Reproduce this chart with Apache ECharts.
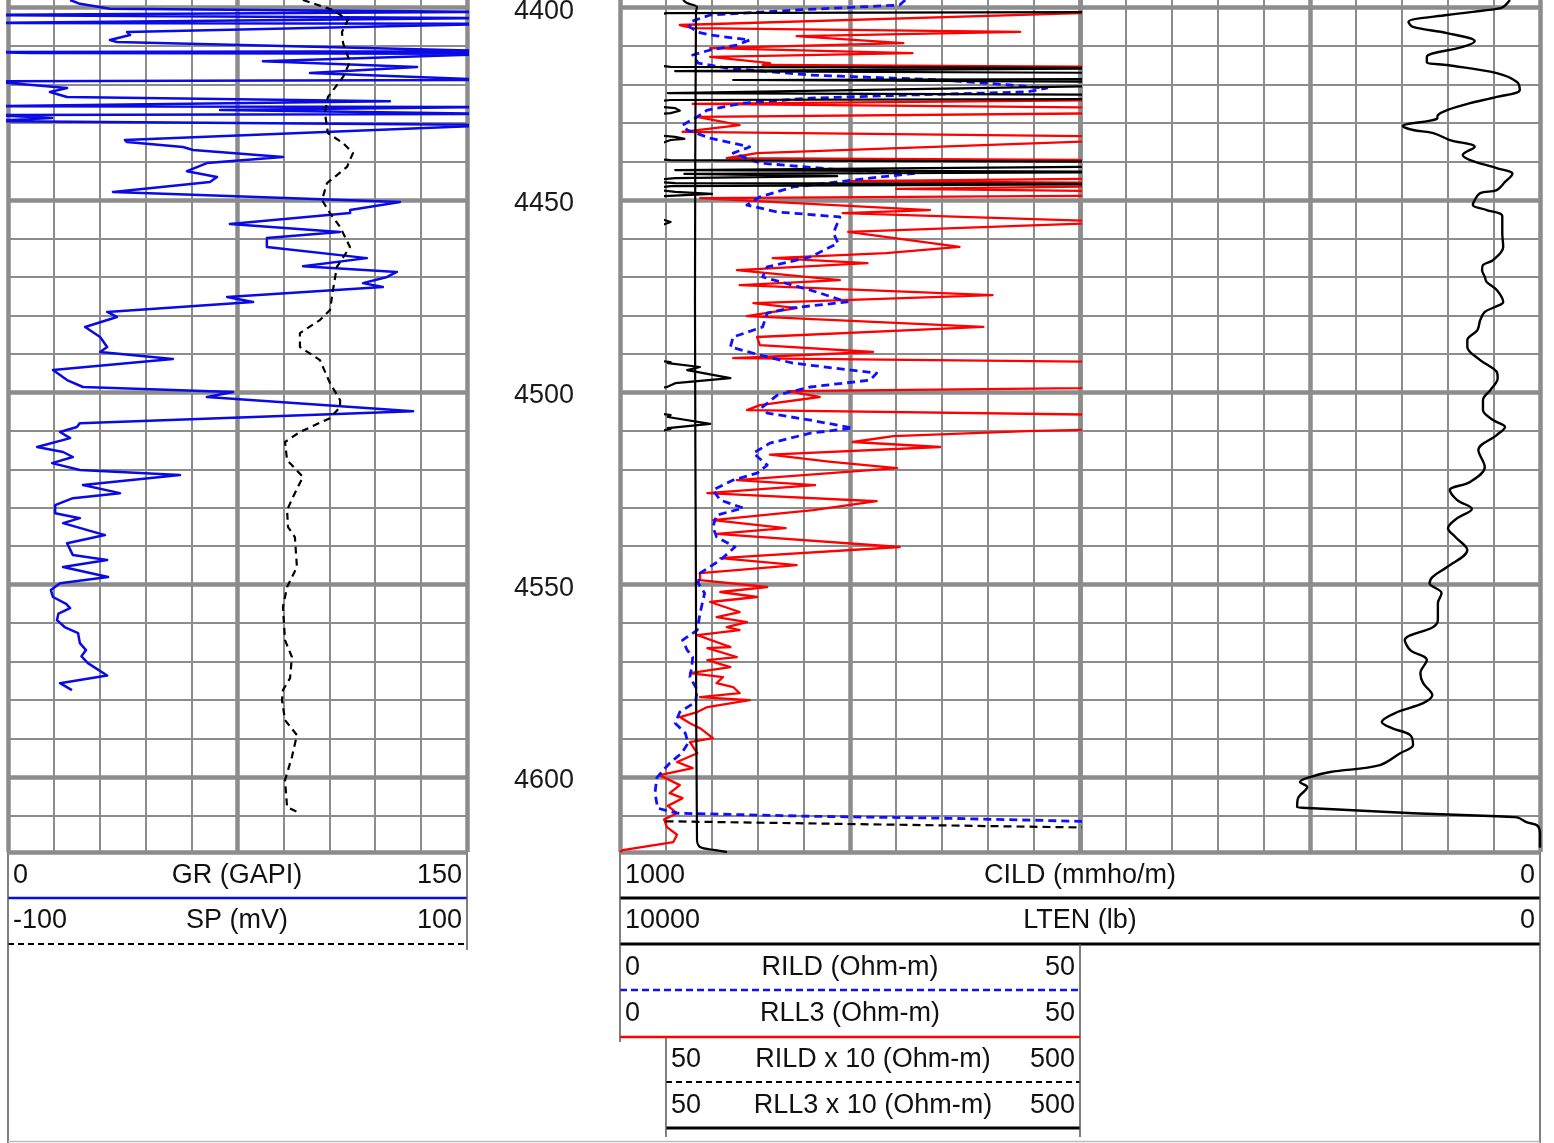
<!DOCTYPE html>
<html><head><meta charset="utf-8">
<script src="https://cdn.jsdelivr.net/npm/echarts@6/dist/echarts.min.js"></script>
<style>html,body{margin:0;padding:0;background:#fff;overflow:hidden}#c{width:1554px;height:1143px}</style>
</head><body><div id="c"></div>
<script>
// ---- data: [depth (ft), value] ----
const grData = [[4398.0,20.3],[4399.0,23.5],[4400.3,33.3],[4401.1,160],[4401.9,-9],[4402.7,160],[4404.0,-9],[4404.2,160],[4406.3,38.9],[4407.1,39.9],[4408.4,33.3],[4408.9,35.6],[4411.3,160],[4411.5,-6],[4411.8,7.2],[4412.0,160],[4413.9,83.3],[4415.4,133.7],[4417.0,98.7],[4418.8,160],[4419.1,-6],[4420.9,19.3],[4421.9,13.7],[4423.2,19.3],[4424.3,124.8],[4425.6,-6],[4425.8,160],[4426.6,69.3],[4427.6,160],[4427.9,-6],[4428.7,14.4],[4429.5,-6],[4430.5,160],[4434.4,38.2],[4434.9,38.9],[4436.2,57.2],[4437.0,60.5],[4438.8,89.9],[4440.4,65.0],[4442.5,58.5],[4444.0,68.3],[4445.3,66.0],[4447.9,34.3],[4448.7,62.7],[4450.5,128.1],[4452.6,111.8],[4453.4,111.8],[4456.2,72.5],[4458.3,108.5],[4459.9,84.6],[4462.2,84.6],[4465.1,117.3],[4467.2,96.4],[4468.7,127.1],[4470.0,123.9],[4471.6,116.0],[4472.6,122.5],[4475.2,71.6],[4476.5,80.1],[4479.1,32.4],[4480.4,35.6],[4483.0,25.2],[4485.6,30.1],[4488.2,32.4],[4489.5,30.1],[4491.3,53.9],[4494.2,14.7],[4496.8,19.3],[4498.6,24.5],[4499.9,73.5],[4501.2,65.0],[4504.9,132.4],[4508.0,23.5],[4509.0,22.5],[4510.3,17.0],[4511.9,20.3],[4514.2,9.5],[4515.5,18.0],[4516.8,21.2],[4518.4,14.4],[4520.2,23.5],[4521.5,56.2],[4524.1,24.5],[4526.2,36.6],[4527.5,21.2],[4529.3,15.4],[4531.4,15.4],[4532.7,23.5],[4534.0,18.0],[4537.1,31.7],[4539.2,19.3],[4542.3,21.2],[4543.6,32.4],[4545.4,18.0],[4548.0,32.7],[4549.6,17.0],[4551.4,14.0],[4553.2,14.7],[4555.0,19.0],[4556.1,20.3],[4557.5,16.5],[4559.2,16.0],[4561.0,18.5],[4562.6,22.9],[4565.2,23.5],[4567.0,25.5],[4568.6,24.0],[4570.4,26.1],[4573.6,32.4],[4575.6,17.0],[4577.4,20.9]];

const spData = [[4398.0,28.5],[4400.6,41.6],[4403.2,48.1],[4406.3,45.5],[4409.2,46.0],[4414.1,49.0],[4418.0,46.0],[4423.2,39.4],[4427.4,38.1],[4432.6,39.4],[4435.2,46.0],[4437.8,50.3],[4441.4,47.7],[4445.6,39.0],[4450.0,36.8],[4453.4,40.3],[4457.0,44.7],[4462.2,49.0],[4467.4,43.3],[4473.4,41.6],[4478.6,40.3],[4481.2,35.9],[4484.6,27.2],[4488.2,27.2],[4491.6,35.9],[4497.6,40.3],[4502.0,44.7],[4503.8,44.7],[4506.7,40.3],[4510.3,27.2],[4512.9,20.7],[4517.6,21.6],[4522.0,28.5],[4527.2,24.2],[4530.6,21.6],[4535.0,22.0],[4537.6,25.0],[4545.4,25.9],[4550.6,21.6],[4555.8,19.8],[4564.4,20.7],[4568.8,23.7],[4574.3,22.9],[4577.4,19.8],[4580.0,19.4],[4585.2,20.7],[4589.1,25.9],[4594.8,23.7],[4600.8,20.7],[4607.8,21.6],[4609.4,27.2]];

const rildData = [[4398.0,31.0],[4399.3,30.4],[4400.6,19.2],[4401.9,9.8],[4403.7,7.6],[4405.0,7.6],[4406.3,8.4],[4407.1,9.8],[4408.4,14.1],[4409.7,12.7],[4411.0,9.8],[4412.3,7.9],[4414.4,8.5],[4415.7,11.6],[4417.5,20.7],[4418.8,35.1],[4420.1,42.4],[4420.9,46.4],[4421.9,44.2],[4422.7,31.5],[4423.5,20.7],[4424.8,13.4],[4426.6,9.5],[4428.4,8.4],[4430.5,6.8],[4431.8,7.3],[4433.9,9.8],[4436.2,14.1],[4437.8,12.3],[4440.4,15.2],[4442.2,24.2],[4443.0,32.3],[4444.3,27.2],[4446.6,18.8],[4449.2,15.2],[4451.3,13.8],[4453.1,17.1],[4454.4,23.9],[4458.6,23.2],[4461.2,23.7],[4464.8,20.7],[4467.4,16.0],[4470.0,15.5],[4473.4,20.7],[4476.5,24.7],[4478.1,18.5],[4479.4,16.0],[4483.0,15.5],[4485.6,12.3],[4488.2,12.0],[4490.3,15.2],[4492.4,18.8],[4495.0,27.9],[4496.8,27.2],[4498.6,20.7],[4500.7,17.1],[4503.8,15.5],[4505.4,16.0],[4507.2,20.7],[4509.3,25.3],[4510.6,20.7],[4513.2,16.3],[4515.8,14.5],[4518.9,16.0],[4521.0,14.9],[4522.8,12.3],[4525.4,10.1],[4528.0,10.9],[4530.1,13.4],[4531.9,10.5],[4535.0,10.1],[4537.6,10.5],[4540.2,12.5],[4543.6,10.9],[4547.0,8.7],[4549.6,8.5],[4552.2,9.2],[4557.4,8.7],[4561.8,8.4],[4564.4,6.8],[4567.0,7.3],[4568.8,7.9],[4571.4,7.8],[4574.0,7.6],[4577.4,8.4],[4580.5,8.2],[4583.1,6.5],[4586.0,6.0],[4588.6,7.1],[4591.2,7.4],[4593.8,6.7],[4596.4,5.4],[4598.2,4.7],[4600.2,4.0],[4604.2,3.8],[4608.1,4.1],[4609.4,6.2],[4610.2,20.7],[4610.7,35.1],[4611.5,50],[4613.1,500],[4613.5,1000],[4619.5,1000]];

const rll3Data = [[4398.0,600],[4401.1,600],[4401.4,50],[4404.5,6.5],[4405.3,7.9],[4406.3,43.5],[4407.4,19.2],[4409.2,30.8],[4410.5,9.8],[4411.8,31.8],[4412.8,9.8],[4414.4,16.3],[4414.9,15.5],[4415.4,55],[4415.7,600],[4416.2,600],[4416.5,60],[4417.0,600],[4418.5,600],[4418.8,123],[4419.3,600],[4420.1,600],[4422.2,52],[4422.7,600],[4423.7,600],[4424.0,55],[4425.0,7.9],[4426.1,60],[4426.8,65],[4427.4,55],[4428.4,8.4],[4430.5,13.0],[4432.3,6.8],[4433.6,60],[4434.1,70],[4434.4,55],[4437.8,14.9],[4439.1,11.6],[4439.6,55],[4440.1,600],[4441.2,600],[4442.2,60],[4442.7,600],[4443.2,70],[4443.8,236],[4444.3,60],[4445.1,24.5],[4445.6,60],[4445.8,600],[4446.4,55],[4447.1,30],[4447.9,60],[4448.4,100],[4449.0,45],[4449.5,8.7],[4452.6,33.7],[4453.4,24.2],[4455.7,55],[4458.3,24.8],[4462.2,36.9],[4463.8,28.9],[4465.1,16.6],[4466.4,26.9],[4468.2,12.7],[4470.8,23.9],[4472.1,13.0],[4474.7,40.5],[4476.8,14.5],[4478.1,19.2],[4480.2,13.8],[4483.0,39.5],[4485.6,14.9],[4487.7,15.2],[4489.5,27.5],[4491.1,12.3],[4492.1,55],[4492.4,52],[4493.4,87],[4494.2,73],[4496.3,120],[4497.6,60],[4498.6,51],[4498.9,50],[4499.7,18.2],[4501.2,21.7],[4503.3,15.2],[4504.6,13.8],[4505.9,55],[4506.4,52],[4508.2,98],[4509.3,52],[4509.5,55],[4510.1,44.2],[4511.4,29.7],[4512.9,25.3],[4514.2,34.8],[4516.2,16.3],[4518.0,22.7],[4519.7,30.1],[4522.8,12.7],[4524.1,21.2],[4526.2,9.5],[4528.3,27.9],[4530.6,21.0],[4533.2,10.1],[4535.3,18.0],[4536.8,10.5],[4540.2,30.4],[4543.1,10.9],[4544.9,19.2],[4547.0,8.7],[4548.8,8.7],[4550.6,16.0],[4551.9,10.9],[4553.2,14.9],[4554.5,9.8],[4557.1,13.0],[4558.4,10.5],[4559.7,13.8],[4561.0,11.6],[4561.8,13.0],[4563.1,8.4],[4566.2,12.0],[4566.5,9.5],[4568.8,12.7],[4569.6,9.5],[4571.4,12.0],[4573.0,7.6],[4574.0,11.2],[4575.6,10.5],[4576.6,12.3],[4578.2,13.0],[4579.2,8.7],[4580.0,14.1],[4581.8,9.5],[4583.1,8.4],[4584.4,6.5],[4586.0,7.6],[4587.3,8.7],[4589.9,10.1],[4590.9,7.6],[4593.8,8.4],[4596.1,6.2],[4597.7,7.9],[4599.5,4.3],[4602.1,6.5],[4604.2,5.4],[4605.5,6.8],[4607.5,5.2],[4609.4,6.2],[4611.0,4.8],[4613.0,5.1],[4615.0,6.2],[4616.9,5.8],[4619.0,0.3],[4619.5,0]];

const cildData = [[4398.0,32.6],[4399.8,40],[4400.3,47],[4401.9,101],[4403.7,143],[4405.0,138],[4406.6,101],[4408.7,71],[4410.2,84],[4412.8,123],[4414.1,123],[4414.9,101],[4417.0,47],[4419.3,25],[4421.4,22],[4423.2,47],[4424.8,76],[4426.6,101],[4427.9,111],[4428.9,112],[4430.8,149],[4431.8,138],[4432.6,116],[4434.4,98],[4436.2,71],[4438.3,84],[4439.6,76],[4441.7,47],[4443.2,30],[4445.3,38],[4447.4,47],[4448.2,65],[4450.0,71],[4451.3,73],[4452.6,58],[4454.2,41],[4458.6,41],[4462.2,40],[4465.6,51],[4466.9,62],[4468.2,63],[4470.0,60],[4471.3,58],[4473.4,47],[4476.5,40],[4477.8,49],[4479.1,60],[4481.2,65],[4483.8,68],[4486.4,79],[4488.2,79],[4491.6,65],[4494.7,47],[4496.3,46],[4499.4,54],[4502.0,62],[4504.6,62],[4507.2,51],[4509.0,38],[4511.1,47],[4515.0,67],[4519.4,60],[4523.3,76],[4525.4,98],[4528.0,90],[4530.3,74],[4532.7,90],[4535.3,100],[4537.6,92],[4541.0,79],[4545.4,101],[4548.0,117],[4549.6,120],[4552.2,107],[4554.8,111],[4559.2,111],[4561.0,116],[4564.4,147],[4567.0,141],[4569.6,123],[4573.0,130],[4575.6,127],[4578.7,117],[4580.8,127],[4583.1,155],[4585.7,172],[4587.3,161],[4589.1,141],[4591.7,138],[4593.8,152],[4596.9,174],[4598.7,228],[4600.0,250],[4601.3,261],[4602.6,253],[4605.5,263],[4607.8,264],[4608.1,247],[4609.4,138],[4610.2,47],[4610.5,25],[4611.8,14],[4612.6,3],[4614.7,0],[4618.4,0]];

const ltenData = [[4398.0,9315],[4398.8,9272],[4399.8,9163],[4401.1,9174],[4476.0,9185],[4554.0,9174],[4616.4,9163],[4618.2,9130],[4619.0,8967],[4619.5,8837]];

// header scale labels
const headerLeftRows = [
  {name:'GR (GAPI)', lo:'0', hi:'150'},
  {name:'SP (mV)', lo:'-100', hi:'100'}
];
const headerWideRows = [
  {name:'CILD (mmho/m)', lo:'1000', hi:'0'},
  {name:'LTEN (lb)', lo:'10000', hi:'0'}
];
const headerResRows = [
  {name:'RILD (Ohm-m)', lo:'0', hi:'50'},
  {name:'RLL3 (Ohm-m)', lo:'0', hi:'50'}
];
const headerBackupRows = [
  {name:'RILD x 10 (Ohm-m)', lo:'50', hi:'500'},
  {name:'RLL3 x 10 (Ohm-m)', lo:'50', hi:'500'}
];

// ---- layout ----
const PXFT = 3.8467, Y4400 = 7.7;
const DMIN = 4350, DMAX = 4619.5;
const gTop = Y4400 - (4400 - DMIN) * PXFT;
const gH = (DMAX - DMIN) * PXFT;
const GRID = '#8c8c8c';
const thin = {show:true, lineStyle:{color:GRID, width:2}};
const thick = {show:true, lineStyle:{color:GRID, width:4.5}};
const hid = {show:false};

function xa(grid, min, max, interval, split, extra){
  return Object.assign({type:'value', gridIndex:grid, min, max, interval,
    axisLine:hid, axisTick:hid, axisLabel:hid, splitLine: split || hid}, extra||{});
}
function ya(grid, interval, split, extra){
  return Object.assign({type:'value', gridIndex:grid, min:DMIN, max:DMAX, interval, inverse:true,
    axisLine:hid, axisTick:hid, axisLabel:hid, splitLine: split || hid}, extra||{});
}
function gr(left, width){
  return {left, width, top:gTop, height:gH, containLabel:false, outerBoundsMode:'none'};
}
const grids = [
  gr(8, 459),     // 0 track1
  gr(620, 460),   // 1 track2
  gr(666, 414),   // 2 backup
  gr(620, 920),   // 3 CILD/LTEN
  gr(1080, 460)   // 4 track3
];
const xAxes = [
  xa(0,0,150,15,thin),            //0 GR
  xa(0,0,150,75,thick),           //1
  xa(0,-100,100,20,null),         //2 SP
  xa(1,0,50,5,thin),              //3 RILD/RLL3
  xa(1,0,50,25,thick),            //4
  xa(2,50,500,50,null),           //5 backup
  xa(3,0,1000,100,null,{inverse:true}), //6 CILD
  xa(3,0,10000,1000,null,{inverse:true}), //7 LTEN
  xa(4,0,10,1,thin),              //8
  xa(4,0,10,5,thick)              //9
];
const yAxes = [
  ya(0,10,thin), ya(0,50,thick),
  ya(1,10,thin,{axisLabel:{show:true, margin:46, color:'#1a1a1a', fontSize:27, fontFamily:'Liberation Sans',
      formatter: v => (Math.abs(v % 50) < 1e-6 ? '{d|' + v + '}' : ''),
      rich:{d:{fontSize:27, fontFamily:'Liberation Sans', color:'#1a1a1a', padding:[7,0,0,0]}}}}),
  ya(1,50,thick),
  ya(2,10,null),
  ya(3,10,null),
  ya(4,10,thin), ya(4,50,thick)
];
const mk = arr => arr.map(p => [p[1], p[0]]);
function line(name, data, xi, yi, color, width, type, smooth){
  return {name, type:'line', data:mk(data), xAxisIndex:xi, yAxisIndex:yi, showSymbol:false, symbol:'none',
    smooth: smooth||false, clip:true, animation:false,
    lineStyle:{color, width, type: type||'solid', join:'round'}};
}
const series = [
  line('GR', grData, 0, 0, '#0a0ae6', 2.5),
  line('SP', spData, 2, 0, '#000', 2.2, [7,5]),
  line('RLL3', rll3Data, 3, 2, '#ff0000', 2.3),
  line('RILD', rildData, 3, 2, '#1010ff', 2.8, [8,5]),
  line('RILD x 10', rildData, 5, 4, '#000', 2.2, [8,5]),
  line('RLL3 x 10', rll3Data, 5, 4, '#000', 2.2),
  line('LTEN', ltenData, 7, 5, '#000', 2.2, 'solid', 0.3),
  line('CILD', cildData, 6, 5, '#000', 2.4, 'solid', 0.35)
];

// ---- header ----
const FONT = '27px "Liberation Sans", Arial, sans-serif';
const g = [];
function txt(t, x, y, align){ g.push({type:'text', x, y, silent:true, style:{text:t, font:FONT, fill:'#111', align, verticalAlign:'middle'}}); }
function ln(x1,y1,x2,y2,stroke,w,dash){ g.push({type:'line', silent:true, shape:{x1,y1,x2,y2}, style:{stroke, lineWidth:w, lineDash:dash||null}}); }
function row(r, y, l, rgt, c, lineY, color, w, dash){
  txt(r.lo, l+5, y, 'left'); txt(r.name, c, y, 'center'); txt(r.hi, rgt-5, y, 'right');
  ln(l, lineY, rgt, lineY, color, w, dash);
}
row(headerLeftRows[0], 876, 8, 467, 237, 898, '#0a0ae6', 2.5);
row(headerLeftRows[1], 921, 8, 467, 237, 944, '#000', 2, [6,4]);
row(headerWideRows[0], 876, 620, 1540, 1080, 898, '#000', 3);
row(headerWideRows[1], 921, 620, 1540, 1080, 944, '#000', 3);
row(headerResRows[0], 968, 620, 1080, 850, 990, '#1010ff', 2.5, [7,4]);
row(headerResRows[1], 1014, 620, 1080, 850, 1037, '#ff0000', 2.5);
row(headerBackupRows[0], 1060, 666, 1080, 873, 1082, '#000', 2, [6,4]);
row(headerBackupRows[1], 1106, 666, 1080, 873, 1128, '#000', 3);
const BC = '#555';
ln(8,852,467,852,BC,1.5); ln(620,852,1540,852,BC,1.5);
ln(8,852,8,1143,BC,1.5); ln(467,852,467,950,BC,1.5);
ln(620,852,620,1042,BC,1.5); ln(666,1037,666,1137,BC,1.5);
ln(1080,944,1080,1137,BC,1.5); ln(1540,852,1540,1143,BC,1.5);
ln(8,1141.5,1540,1141.5,'#bbb',1.5);

const chart = echarts.init(document.getElementById('c'), null, {renderer:'canvas'});
chart.setOption({
  animation:false, backgroundColor:'#fff',
  grid: grids, xAxis: xAxes, yAxis: yAxes, series, graphic: g
});
</script></body></html>
